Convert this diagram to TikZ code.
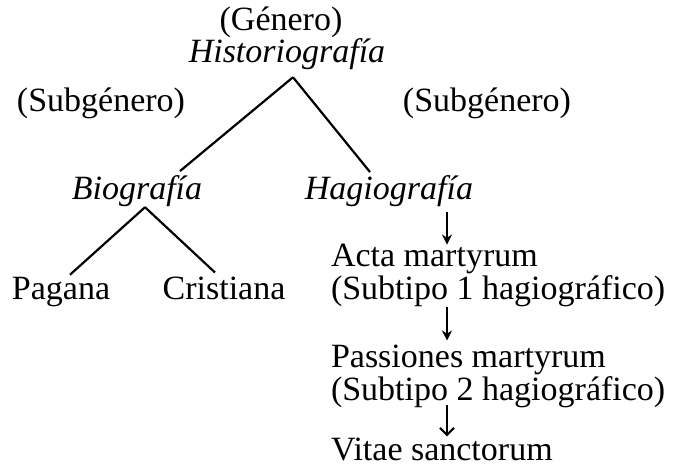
\documentclass[tikz,border=0pt]{standalone}
\usepackage{fontspec}
\setmainfont{Liberation Serif}
\usetikzlibrary{positioning,arrows.meta}
\begin{document}
\begin{tikzpicture}[x=1pt, y=1pt, main/.style = {inner sep=0pt, outer sep=0pt, anchor=base, font=\fontsize{34}{33}\selectfont},
                    klw/.style = {main, anchor=base west},
                    branch/.style = {line width=2.2pt},
                    flow/.style = {line width=1.8pt, -{Stealth[length=10pt,width=10pt]}}]
                \useasboundingbox (0,0) rectangle (674,466);
                    \node[main] (a) at (281,435) {(Género)};
                    \node[main] (b) at (287,403) {\itshape Historiografía};
                    \node[main] (c) at (101,354) {(Subgénero)};
                    \node[main] (d) at (487,354) {(Subgénero)};
                    \node[main] (e) at (137,266) {\itshape Biografía};
                    \node[main] (f) at (389,266) {\itshape Hagiografía};
                    \node[main] (g) at (61,166) {Pagana};
                    \node[main] (h) at (224,166) {Cristiana};
                    \node[klw] (i) at (331,199) {Acta martyrum};
                    \node[klw] (j) at (331,166) {(Subtipo 1 hagiográfico)};
                    \node[klw] (k) at (331,99) {Passiones martyrum};
                    \node[klw] (l) at (331,66) {(Subtipo 2 hagiográfico)};
                    \node[klw] (m) at (331,6) {Vitae sanctorum};
                    \coordinate (x) at (447,0);

                    \draw[branch] ([shift={(6pt,-7pt)}]b.south) to ([shift={(43pt,5pt)}]e.north);
                    \draw[branch] ([shift={(6pt,-7pt)}]b.south) to ([shift={(-19pt,4pt)}]f.north);
                    \draw[branch] ([xshift=8pt]e.south) to ([shift={(9pt,3pt)}]g.north);
                    \draw[branch] ([xshift=8pt]e.south) to ([shift={(-9pt,5pt)}]h.north);
                    \draw[flow, shorten <=5pt] (f.south -| x) to (i.north -| x);
                    \draw[flow] (j.south -| x) to ([yshift=4pt]k.north -| x);
                    \draw[branch, -{Straight Barb[length=7pt,width=14pt]}] ([yshift=2pt]l.south -| x) to ([yshift=1pt]m.north -| x);

                \end{tikzpicture}
\end{document}
